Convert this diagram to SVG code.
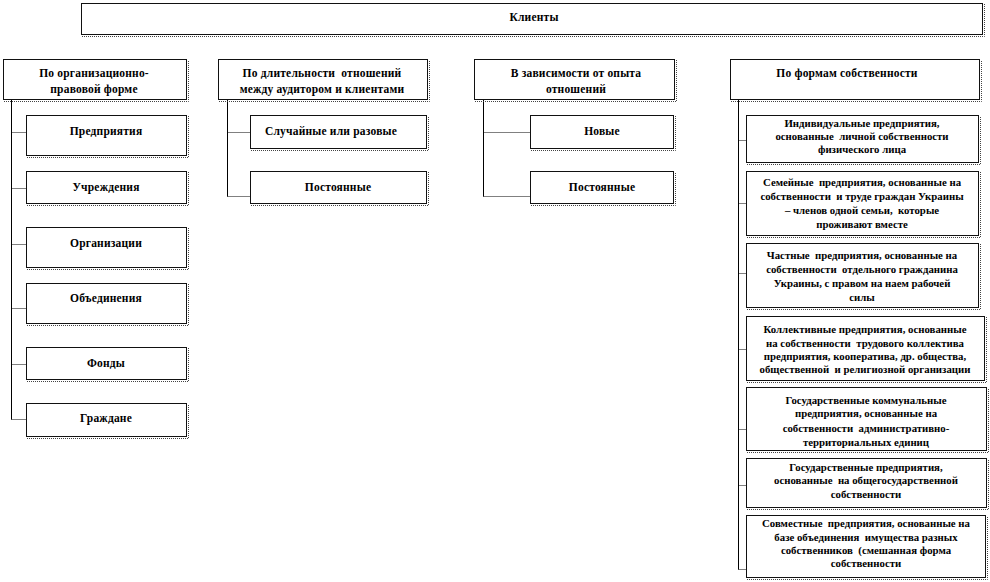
<svg xmlns="http://www.w3.org/2000/svg" width="990" height="582" viewBox="0 0 990 582">
<style>
.box{fill:#fff;stroke:#111;stroke-width:1}
.sh{fill:none;stroke:#444;stroke-width:1;stroke-dasharray:1 1}
.ln{fill:none;stroke:#000;stroke-width:1}
.tk{fill:none;stroke:#000;stroke-width:1;stroke-dasharray:1 1}
text{font-family:"Liberation Serif","Times New Roman",serif;font-weight:bold;font-size:11.5px;fill:#000;text-anchor:middle;letter-spacing:0.2px;white-space:pre}
.s text{font-size:10.8px;letter-spacing:0}
</style>
<rect width="990" height="582" fill="#fff"/>
<g id="connectors">
<path class="ln" d="M11.5 99V419.5"/>
<path class="tk" d="M11.5 132.5H26M11.5 188.5H26M11.5 244.5H26M11.5 308.5H26M11.5 364.5H26M11.5 419.5H26"/>
<path class="ln" d="M227.5 99V196.5"/>
<path class="tk" d="M227.5 132.5H250M227.5 196.5H250"/>
<path class="ln" d="M483.5 99V196.5"/>
<path class="tk" d="M483.5 132.5H530M483.5 196.5H530"/>
<path class="ln" d="M738.5 99V569.5"/>
<path class="tk" d="M738.5 140.5H746M738.5 203.5H746M738.5 273.5H746M738.5 349.5H746M738.5 429.5H746M738.5 485.5H746M738.5 569.5H746"/>
</g>
<g id="n0"><rect class="box" x="81.5" y="3.5" width="901" height="31"/><path class="sh" d="M82 36.5H984.5V4"/><text x="534" y="21">Клиенты</text></g>
<g id="h1"><rect class="box" x="3.5" y="59.5" width="183" height="40"/><path class="sh" d="M4 101.5H188.5V60"/><text x="94" y="77">По организационно-</text><text x="94" y="93">правовой форме</text></g>
<g id="h2"><rect class="box" x="218.5" y="59.5" width="209" height="40"/><path class="sh" d="M219 101.5H429.5V60"/><text x="322" y="77">По длительности  отношений</text><text x="322" y="93">между аудитором и клиентами</text></g>
<g id="h3"><rect class="box" x="474.5" y="59.5" width="200" height="40"/><path class="sh" d="M475 101.5H676.5V60"/><text x="576" y="77">В зависимости от опыта</text><text x="576" y="93">отношений</text></g>
<g id="h4"><rect class="box" x="730.5" y="59.5" width="249" height="40"/><path class="sh" d="M731 101.5H981.5V60"/><text x="847" y="77">По формам собственности</text></g>
<g id="a1"><rect class="box" x="26.5" y="115.5" width="160" height="40"/><path class="sh" d="M27 157.5H188.5V116"/><text x="106" y="135">Предприятия</text></g>
<g id="a2"><rect class="box" x="26.5" y="171.5" width="160" height="32"/><path class="sh" d="M27 205.5H188.5V172"/><text x="106" y="191">Учреждения</text></g>
<g id="a3"><rect class="box" x="26.5" y="227.5" width="160" height="40"/><path class="sh" d="M27 269.5H188.5V228"/><text x="106" y="247">Организации</text></g>
<g id="a4"><rect class="box" x="26.5" y="283.5" width="160" height="40"/><path class="sh" d="M27 325.5H188.5V284"/><text x="106" y="302">Объединения</text></g>
<g id="a5"><rect class="box" x="26.5" y="347.5" width="160" height="32"/><path class="sh" d="M27 381.5H188.5V348"/><text x="106" y="367">Фонды</text></g>
<g id="a6"><rect class="box" x="26.5" y="403.5" width="160" height="33"/><path class="sh" d="M27 438.5H188.5V404"/><text x="106" y="422">Граждане</text></g>
<g id="b1"><rect class="box" x="250.5" y="115.5" width="176" height="33"/><path class="sh" d="M251 150.5H428.5V116"/><text x="331" y="135">Случайные или разовые</text></g>
<g id="b2"><rect class="box" x="250.5" y="171.5" width="176" height="32"/><path class="sh" d="M251 205.5H428.5V172"/><text x="338" y="191">Постоянные</text></g>
<g id="c1"><rect class="box" x="530.5" y="115.5" width="143" height="33"/><path class="sh" d="M531 150.5H675.5V116"/><text x="602" y="135">Новые</text></g>
<g id="c2"><rect class="box" x="530.5" y="171.5" width="143" height="32"/><path class="sh" d="M531 205.5H675.5V172"/><text x="602" y="191">Постоянные</text></g>
<g id="d1" class="s"><rect class="box" x="746.5" y="115.5" width="232" height="47"/><path class="sh" d="M747 164.5H980.5V116"/><text x="862" y="127">Индивидуальные предприятия,</text><text x="862" y="140">основанные  личной собственности</text><text x="862" y="153">физического лица</text></g>
<g id="d2" class="s"><rect class="box" x="746.5" y="171.5" width="232" height="64"/><path class="sh" d="M747 237.5H980.5V172"/><text x="862" y="186">Семейные  предприятия, основанные на</text><text x="862" y="200">собственности  и труде граждан Украины</text><text x="862" y="214">– членов одной семьи,  которые</text><text x="862" y="228">проживают вместе</text></g>
<g id="d3" class="s"><rect class="box" x="746.5" y="243.5" width="232" height="64"/><path class="sh" d="M747 309.5H980.5V244"/><text x="862" y="259">Частные  предприятия, основанные на</text><text x="862" y="273">собственности  отдельного гражданина</text><text x="862" y="287">Украины, с правом на наем рабочей</text><text x="862" y="301">силы</text></g>
<g id="d4" class="s"><rect class="box" x="746.5" y="316.5" width="238" height="64"/><path class="sh" d="M747 382.5H986.5V317"/><text x="865" y="333">Коллективные предприятия, основанные</text><text x="865" y="347">на собственности  трудового коллектива</text><text x="865" y="360">предприятия, кооператива, др. общества,</text><text x="865" y="373">общественной  и религиозной организации</text></g>
<g id="d5" class="s"><rect class="box" x="746.5" y="387.5" width="240" height="63"/><path class="sh" d="M747 452.5H988.5V388"/><text x="866" y="404">Государственные коммунальные</text><text x="866" y="417">предприятия, основанные на</text><text x="866" y="432">собственности  административно-</text><text x="866" y="446">территориальных единиц</text></g>
<g id="d6" class="s"><rect class="box" x="746.5" y="458.5" width="240" height="49"/><path class="sh" d="M747 509.5H988.5V459"/><text x="866" y="471">Государственные предприятия,</text><text x="866" y="484">основанные  на общегосударственной</text><text x="866" y="498">собственности</text></g>
<g id="d7" class="s"><rect class="box" x="746.5" y="515.5" width="239" height="62"/><path class="sh" d="M747 579.5H987.5V516"/><text x="866" y="527">Совместные  предприятия, основанные на</text><text x="866" y="541">базе объединения  имущества разных</text><text x="866" y="554">собственников  (смешанная форма</text><text x="866" y="567">собственности</text></g>
</svg>
